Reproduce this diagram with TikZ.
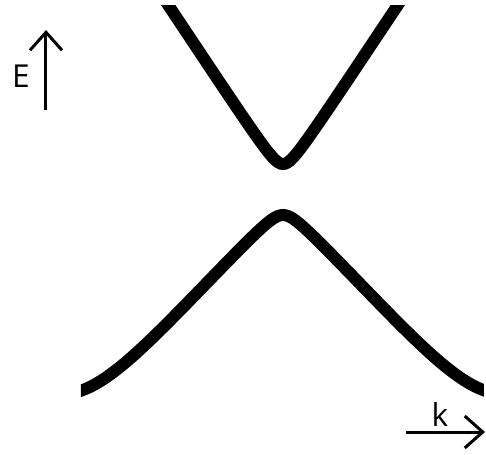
\documentclass[tikz,border=0pt]{standalone}
\usepackage{fontspec}
\setmainfont{Open Sans}
\usetikzlibrary{arrows.meta}

\begin{document}
\begin{tikzpicture}[
    band/.style={line width=0.24cm, line cap=butt},
    axis/.style={line width=0.06cm, -{Straight Barb[length=0.36cm, width=0.64cm]}},
    axislabel/.style={font=\fontsize{18}{22}\selectfont, inner sep=0pt},
]
\useasboundingbox (-5.66,-5.28) rectangle (4.06,3.8);
% bands
\begin{scope}
\clip (-4.04,-5.28) rectangle (4.02,3.7);
\draw[band] plot[domain=-2.6:2.6, samples=121, smooth]
     (\x, {0.52+sqrt((1.51*\x)^2+0.09)-0.3});
\draw[band] plot[domain=-4.1:4.1, samples=161, smooth]
     (\x, {-0.5-1.05*(sqrt(\x*\x+0.0625)-0.25)+0.42*(\x*\x/15.68)^3});
\end{scope}
% axes
\coordinate (Efrom) at (-4.74,1.6);
\coordinate (Eto) at (-4.74,3.2);
\coordinate (kfrom) at (2.46,-4.84);
\coordinate (kto) at (4.04,-4.84);
\draw[axis] (Efrom) -- (Eto);
\draw[axis] (kfrom) -- (kto);
\node[axislabel] (Elabel) at (-5.24,2.27) {E};
\node[axislabel] (klabel) at (3.14,-4.48) {k};
\end{tikzpicture}
\end{document}
